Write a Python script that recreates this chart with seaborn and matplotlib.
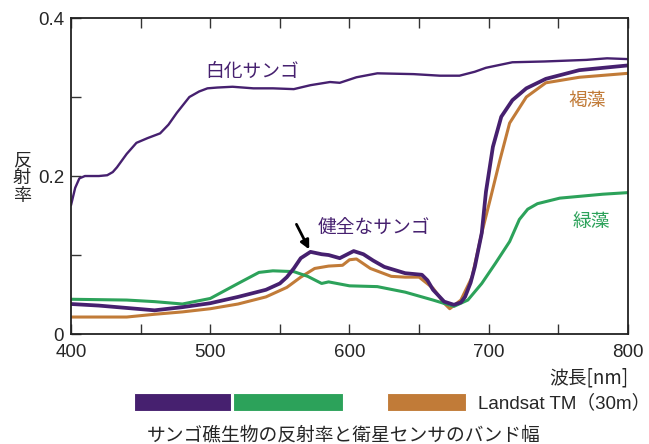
import pandas as pd
import matplotlib
matplotlib.use("Agg")
import matplotlib.pyplot as plt
import seaborn as sns

sns.set_style("ticks")
plt.rcParams['font.family'] = ['Liberation Sans', 'Noto Sans CJK JP', 'DejaVu Sans']
JP = ['Noto Sans CJK JP', 'DejaVu Sans']

# スペクトルデータ
wl_white = [400, 403, 406, 410, 420, 426, 430, 433, 440, 447, 455, 464, 470, 476, 485,
            492, 498, 505, 516, 531, 545, 560, 572, 586, 593, 605, 620, 646, 665, 679,
            690, 698, 717, 740, 770, 785, 800]
r_white = [0.163, 0.185, 0.197, 0.200, 0.200, 0.201, 0.205, 0.211, 0.228, 0.242, 0.248,
           0.254, 0.265, 0.280, 0.300, 0.307, 0.311, 0.312, 0.313, 0.311, 0.311, 0.310,
           0.315, 0.319, 0.318, 0.325, 0.330, 0.329, 0.327, 0.327, 0.332, 0.337, 0.344,
           0.345, 0.347, 0.349, 0.348]

wl_healthy = [400, 420, 440, 460, 480, 500, 520, 540, 550, 555, 560, 565, 572, 580, 585,
              593, 603, 610, 617, 625, 640, 652, 656, 660, 668, 675, 680, 683, 687, 690,
              695, 698, 703, 709, 717, 727, 741, 765, 794, 800]
r_healthy = [0.038, 0.036, 0.033, 0.030, 0.034, 0.039, 0.047, 0.056, 0.064, 0.072, 0.083,
             0.096, 0.104, 0.101, 0.100, 0.096, 0.105, 0.101, 0.093, 0.085, 0.077, 0.075,
             0.068, 0.056, 0.041, 0.037, 0.040, 0.047, 0.065, 0.085, 0.128, 0.180, 0.237,
             0.275, 0.296, 0.311, 0.323, 0.334, 0.339, 0.340]

wl_brown = [400, 440, 460, 480, 500, 520, 540, 555, 565, 575, 585, 595, 600, 605, 615,
            630, 640, 650, 660, 668, 672, 680, 688, 695, 701, 708, 715, 727, 741, 765, 800]
r_brown = [0.0215, 0.0215, 0.025, 0.028, 0.032, 0.038, 0.047, 0.059, 0.072, 0.083, 0.086,
           0.087, 0.094, 0.095, 0.083, 0.073, 0.072, 0.072, 0.058, 0.039, 0.032, 0.043,
           0.072, 0.128, 0.170, 0.220, 0.267, 0.300, 0.318, 0.325, 0.330]

wl_green = [400, 440, 460, 480, 500, 520, 535, 545, 560, 570, 580, 585, 600, 620, 640,
            660, 675, 685, 695, 705, 715, 722, 728, 735, 751, 782, 800]
r_green = [0.044, 0.043, 0.041, 0.038, 0.045, 0.064, 0.078, 0.080, 0.079, 0.073, 0.064,
           0.066, 0.061, 0.060, 0.053, 0.043, 0.035, 0.043, 0.064, 0.090, 0.117, 0.145,
           0.158, 0.165, 0.172, 0.177, 0.179]

# Landsat TM バンド幅（図の位置どおり）
band_start = [445, 516, 627]
band_end = [515, 595, 684]

PURPLE = "#46206f"
GREEN = "#2ca25a"
ORANGE = "#c17b38"
band_colors = [PURPLE, GREEN, ORANGE]

fig = plt.figure(figsize=(6.49, 4.44), dpi=100)
ax = fig.add_axes([0.1094, 0.2477, 0.8582, 0.7117])

sns.lineplot(x=wl_brown, y=r_brown, color=ORANGE, linewidth=2.2, ax=ax, sort=False)
sns.lineplot(x=wl_green, y=r_green, color=GREEN, linewidth=2.2, ax=ax, sort=False)
sns.lineplot(x=wl_white, y=r_white, color=PURPLE, linewidth=1.7, ax=ax, sort=False)
sns.lineplot(x=wl_healthy, y=r_healthy, color=PURPLE, linewidth=2.7, ax=ax, sort=False)

ax.set_xlim(400, 800)
ax.set_ylim(0, 0.4)
ax.set_xticks([400, 500, 600, 700, 800])
ax.set_xticks([450, 550, 650, 750], minor=True)
ax.set_yticks([0, 0.2, 0.4])
ax.set_yticks([0.1, 0.3], minor=True)
ax.set_yticklabels(['0', '0.2', '0.4'])
ax.tick_params(axis='both', which='both', direction='in', length=7, width=1,
               color='#333333', labelsize=13.5, top=True, right=False)
ax.tick_params(axis='x', pad=7)
ax.tick_params(axis='y', pad=5)
for s in ax.spines.values():
    s.set_linewidth(1.3)
    s.set_color('#222222')
ax.set_xlabel('')
ax.set_ylabel('')

# ラベル
ax.text(530, 0.332, '白化サンゴ', color=PURPLE, fontsize=13.5, ha='center', va='center',
        family=JP)
ax.text(771, 0.296, '褐藻', color=ORANGE, fontsize=13.5, ha='center', va='center', family=JP)
ax.text(577, 0.134, '健全なサンゴ', color=PURPLE, fontsize=13.5, ha='left', va='center',
        family=JP)
ax.text(774, 0.143, '緑藻', color=GREEN, fontsize=13.5, ha='center', va='center', family=JP)
ax.annotate('', xy=(572, 0.104), xytext=(561, 0.142),
            arrowprops=dict(arrowstyle='-|>', color='black', lw=2.0, mutation_scale=13))

fig.text(22 / 649, 1 - 178 / 444, '反\n射\n率', fontsize=13, ha='center', va='center',
         linespacing=1.0, family=JP)
fig.text(628 / 649, 1 - 378 / 444, '波長[nm]', fontsize=13.5, ha='right', va='center',
         family=JP)

# バンド幅バー
ax2 = fig.add_axes([0.1094, 0.0743, 0.8582, 0.0405])
ax2.barh(y=[0, 0, 0], width=[e - s for s, e in zip(band_start, band_end)],
         left=band_start, color=band_colors, height=1.0, edgecolor='white', linewidth=0.8)
ax2.set_xlim(400, 800)
ax2.set_ylim(-0.5, 0.5)
ax2.axis('off')

fig.text(478 / 649, 1 - 403 / 444, 'Landsat TM（30m）', fontsize=13.5, ha='left',
         va='center')
fig.text(344 / 649, 1 - 435 / 444, 'サンゴ礁生物の反射率と衛星センサのバンド幅',
         fontsize=13.5, ha='center', va='center', family=JP)

fig.savefig("out.png", dpi=100)
